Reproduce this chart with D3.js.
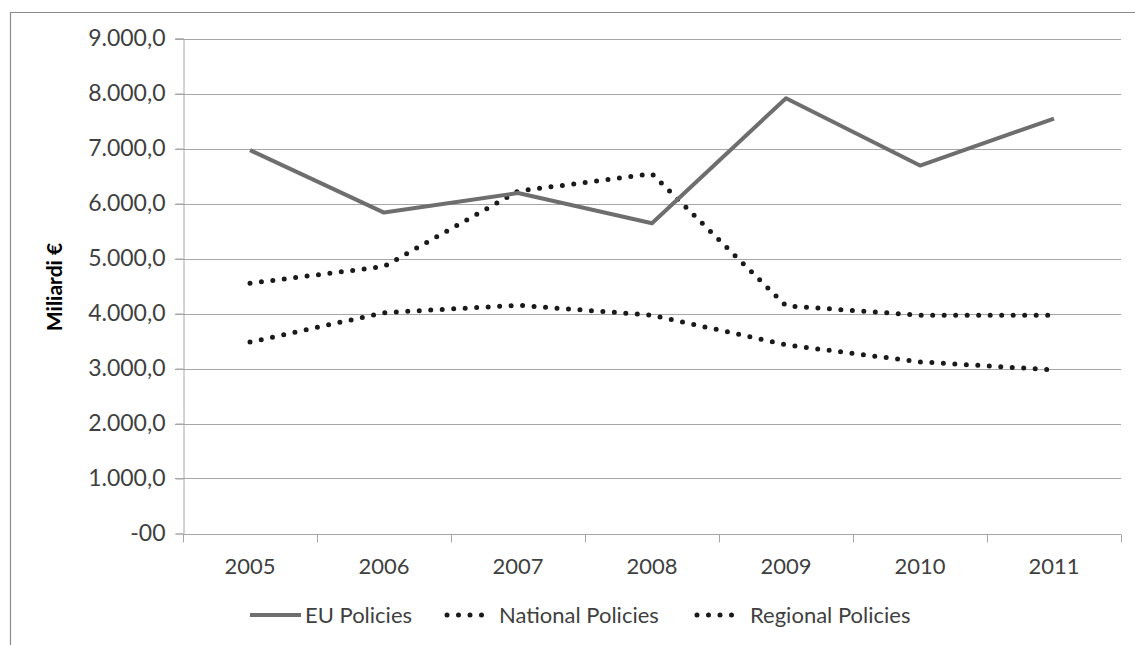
<!DOCTYPE html>
<html>
<head>
<meta charset="utf-8">
<script src="https://cdn.jsdelivr.net/npm/d3@7"></script>
<style>
  html, body { margin: 0; padding: 0; background: #fff; }
  svg { display: block; font-family: Lato, "Open Sans", sans-serif; }
</style>
</head>
<body>
<svg id="chart" width="1135" height="645"></svg>
<script>
// Spending by policy level, 2005–2011 (billions €)
const years = ["2005", "2006", "2007", "2008", "2009", "2010", "2011"];
const euPolicies = [6970, 5835, 6190, 5640, 7915, 6690, 7545];
const nationalPolicies = [4550, 4855, 6225, 6540, 4140, 3970, 3970];
const regionalPolicies = [3480, 4015, 4150, 3970, 3430, 3120, 2975];
const yTicks = [0, 1000, 2000, 3000, 4000, 5000, 6000, 7000, 8000, 9000];
const seriesNames = ["EU Policies", "National Policies", "Regional Policies"];

const svg = d3.select("#chart");
const W = 1135, H = 645;
const plot = { left: 183, right: 1121, top: 38.5, bottom: 533.5 };

// outer frame (cropped on the right and bottom)
svg.append("path")
  .attr("d", `M10.5,${H} V12.5 H${W}`)
  .attr("fill", "none").attr("stroke", "#8c8c8c").attr("stroke-width", 1.2);

const x = d3.scaleBand().domain(years).range([plot.left, plot.right]).padding(0);
const y = d3.scaleLinear().domain([0, 9000]).range([plot.bottom, plot.top]);

const fmt = v => v === 0 ? "-00" : d3.format(",.1f")(v).replace(/,/g, "#").replace(".", ",").replace(/#/g, ".");

// horizontal gridlines
svg.append("g").selectAll("line").data(yTicks.filter(d => d > 0)).join("line")
  .attr("x1", plot.left - 8).attr("x2", plot.right)
  .attr("y1", d => Math.round(y(d)) + 0.5).attr("y2", d => Math.round(y(d)) + 0.5)
  .attr("stroke", "#a6a6a6").attr("stroke-width", 1);

// y axis
const yAxis = svg.append("g")
  .attr("transform", `translate(${plot.left + 0.5},0)`)
  .call(d3.axisLeft(y).tickValues(yTicks).tickFormat(fmt).tickSize(8).tickPadding(10));
yAxis.select(".domain").attr("stroke", "#a6a6a6");
yAxis.selectAll(".tick line").attr("stroke", "#a6a6a6");
yAxis.selectAll(".tick text")
  .attr("fill", "#3f3f3f").style("font-size", "23px").style("font-family", "Lato, sans-serif");

// x axis with ticks at band boundaries
const xAxisG = svg.append("g").attr("transform", `translate(0,${Math.round(plot.bottom) + 0.5})`);
xAxisG.append("line")
  .attr("x1", plot.left).attr("x2", plot.right)
  .attr("stroke", "#a6a6a6");
const bounds = years.map(d => x(d)).concat([x(years[years.length - 1]) + x.bandwidth()]);
xAxisG.selectAll("line.tk").data(bounds).join("line").attr("class", "tk")
  .attr("x1", d => Math.round(d) + 0.5).attr("x2", d => Math.round(d) + 0.5)
  .attr("y1", 0).attr("y2", 8)
  .attr("stroke", "#a6a6a6");
xAxisG.selectAll("text").data(years).join("text")
  .attr("x", d => x(d) + x.bandwidth() / 2)
  .attr("y", 39)
  .attr("text-anchor", "middle")
  .attr("fill", "#3f3f3f").style("font-size", "22px")
  .text(d => d);

// y axis title
svg.append("text")
  .attr("transform", `translate(62,${(plot.top + plot.bottom) / 2 + 1}) rotate(-90)`)
  .attr("text-anchor", "middle")
  .attr("fill", "#000").style("font-size", "21px").style("font-weight", "bold")
  .text("Miliardi €");

const line = d3.line()
  .x((d, i) => x(years[i]) + x.bandwidth() / 2)
  .y(d => y(d));

const dotted = { "stroke-dasharray": "0 11.5", "stroke-linecap": "round", "stroke-width": 5, stroke: "#1a1a1a" };

// regional and national (dotted), EU (solid)
function drawSeries(data, style) {
  const p = svg.append("path").datum(data).attr("d", line).attr("fill", "none")
    .attr("stroke-linejoin", "round");
  Object.entries(style).forEach(([k, v]) => p.attr(k, v));
}
drawSeries(regionalPolicies, dotted);
drawSeries(nationalPolicies, dotted);
drawSeries(euPolicies, { stroke: "#6e6e6e", "stroke-width": 4 });

// legend
const legendY = 615;
const legend = [
  { name: seriesNames[0], x1: 250, x2: 301, tx: 305, style: { stroke: "#6e6e6e", "stroke-width": 4 } },
  { name: seriesNames[1], x1: 447, x2: 485, tx: 499, style: dotted },
  { name: seriesNames[2], x1: 697, x2: 735, tx: 750, style: dotted }
];
legend.forEach(l => {
  const ln = svg.append("line").attr("x1", l.x1).attr("x2", l.x2).attr("y1", legendY).attr("y2", legendY);
  Object.entries(l.style).forEach(([k, v]) => ln.attr(k, v));
  svg.append("text").attr("x", l.tx).attr("y", legendY + 8)
    .attr("fill", "#3f3f3f").style("font-size", "22px").text(l.name);
});
</script>
</body>
</html>
